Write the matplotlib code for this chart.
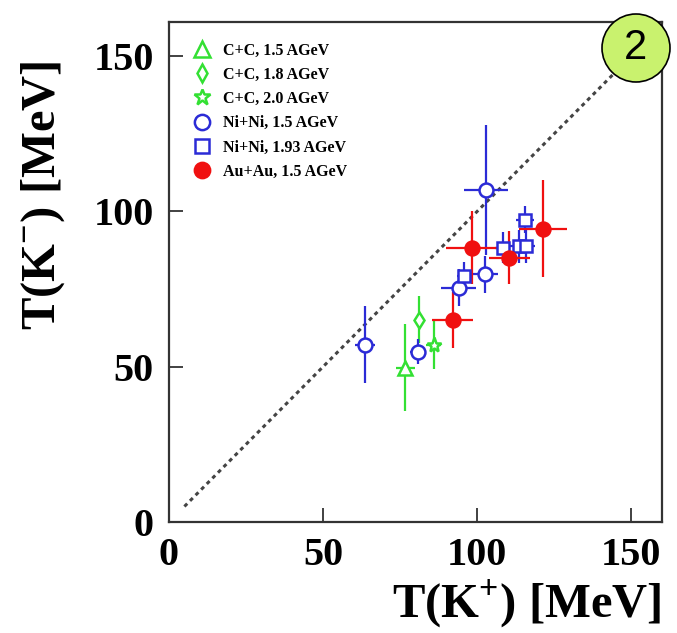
import matplotlib.pyplot as plt
from matplotlib.lines import Line2D
from matplotlib.patches import Ellipse

plt.rcParams["font.family"] = ["Liberation Serif", "DejaVu Serif"]
plt.rcParams["font.weight"] = "bold"
plt.rcParams["mathtext.fontset"] = "custom"
plt.rcParams["mathtext.rm"] = "Liberation Serif:bold"
plt.rcParams["mathtext.bf"] = "Liberation Serif:bold"

# C+C points (one each)
cc15_x, cc15_y, cc15_xerr, cc15_yerr = [76.7], [49.6], [3.0], [14.0]
cc18_x, cc18_y, cc18_xerr, cc18_yerr = [81.0], [65.2], [1.5], [7.5]
cc20_x, cc20_y, cc20_xerr, cc20_yerr = [85.9], [57.1], [2.5], [7.8]

# Ni+Ni 1.5 AGeV
ni15_x = [63.7, 80.8, 94.0, 102.7, 102.9]
ni15_y = [57.1, 54.9, 75.4, 79.7, 106.9]
ni15_xerr = [3.2, 2.5, 5.7, 4.0, 7.2]
ni15_yerr = [12.5, 4.0, 6.0, 6.0, 21.0]

# Ni+Ni 1.93 AGeV
ni193_x = [95.9, 108.3, 113.7, 115.9, 115.6]
ni193_y = [79.1, 88.3, 88.8, 88.8, 97.4]
ni193_xerr = [2.5, 2.5, 3.0, 3.0, 3.0]
ni193_yerr = [4.5, 5.0, 5.3, 5.3, 4.5]

# Au+Au 1.5 AGeV
au_x = [92.1, 98.4, 110.5, 121.5]
au_y = [64.9, 88.3, 85.1, 94.4]
au_xerr = [6.7, 8.6, 6.5, 7.8]
au_yerr = [9.0, 11.8, 8.6, 15.6]

labels = ["C+C, 1.5 AGeV", "C+C, 1.8 AGeV", "C+C, 2.0 AGeV",
          "Ni+Ni, 1.5 AGeV", "Ni+Ni, 1.93 AGeV", "Au+Au, 1.5 AGeV"]

green = "#33e033"
blue = "#2b2bd6"
red = "#f01010"

fig = plt.figure(figsize=(6.77, 6.33), dpi=100)
ax = fig.add_axes([169 / 677, 1 - 522 / 633, 493 / 677, 500 / 633])

# diagonal T(K-) = T(K+)
ax.plot([5, 160], [5, 160], color="#444444", lw=2.2, ls=(0, (1.3, 1.3)), zorder=1)

series = [
    (cc15_x, cc15_y, cc15_xerr, cc15_yerr, green, "^", 10, "white"),
    (cc18_x, cc18_y, cc18_xerr, cc18_yerr, green, "d", 8, "white"),
    (cc20_x, cc20_y, cc20_xerr, cc20_yerr, green, "*", 11, "white"),
    (ni15_x, ni15_y, ni15_xerr, ni15_yerr, blue, "o", 10, "white"),
    (ni193_x, ni193_y, ni193_xerr, ni193_yerr, blue, "s", 8.5, "white"),
    (au_x, au_y, au_xerr, au_yerr, red, "o", 10, red),
]
for x, y, xe, ye, c, m, ms, fc in series:
    ax.errorbar(x, y, xerr=xe, yerr=ye, fmt=m, color=c, ms=ms, mfc=fc,
                mec=c, mew=1.8, elinewidth=1.6, capsize=0, zorder=3)

handles = [Line2D([], [], ls="none", marker=s[5], color=s[4], mfc=s[7],
                  mec=s[4], mew=1.8, ms=s[6] + 1) for s in series]
ax.legend(handles, labels, loc="upper left", frameon=False,
          prop={"family": "Liberation Serif", "weight": "bold", "size": 11.5},
          handletextpad=0.7, labelspacing=0.52, borderaxespad=0.0,
          bbox_to_anchor=(0.035, 0.972), handlelength=1.2)

ax.set_xlim(0, 160)
ax.set_ylim(0, 161)
ax.set_xticks([0, 50, 100, 150])
ax.set_yticks([0, 50, 100, 150])
ax.tick_params(direction="in", length=10, width=1.3, labelsize=29, pad=11,
               color="#333333")
for lab in ax.get_xticklabels() + ax.get_yticklabels():
    lab.set_fontweight("bold")
for sp in ax.spines.values():
    sp.set_color("#333333")
    sp.set_linewidth(1.6)

fig.text(661 / 677, 1 - 604 / 633, r"T(K$^{+}$) [MeV]", ha="right",
         va="center", fontsize=35, fontweight="bold")
fig.text(43 / 677, 1 - 195 / 633, r"T(K$^{-}$) [MeV]", ha="center",
         va="center", rotation=90, fontsize=35, fontweight="bold")

# badge "2"
fig.add_artist(Ellipse((636 / 677, 1 - 48 / 633), 68 / 677, 68 / 633,
                       transform=fig.transFigure, facecolor="#c9f26e",
                       edgecolor="black", lw=1.2, zorder=10))
fig.text(636 / 677, 1 - 48 / 633, "2", ha="center", va="center",
         fontsize=30, family="Liberation Sans", fontweight="normal",
         zorder=11)

fig.savefig("out.png", dpi=100)
